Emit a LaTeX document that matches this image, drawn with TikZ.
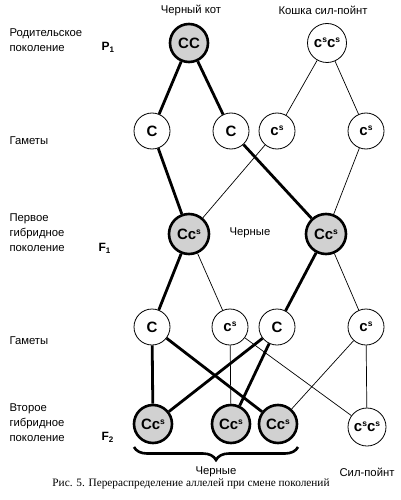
\documentclass[tikz,border=0pt]{standalone}
\usepackage{fontspec}
\setmainfont{Liberation Serif}
\setsansfont{Liberation Sans}
\usetikzlibrary{decorations.pathreplacing}
\newcommand{\supS}{\raisebox{0.62ex}{\fontsize{8.5}{8.5}\selectfont s}}

\begin{document}
\begin{tikzpicture}[x=1pt, y=-1pt, font=\sffamily\fontsize{11.3}{15}\selectfont]
\tikzset{gam/.style={circle, draw, line width=0.8pt, fill=white, minimum size=36pt, inner sep=0pt, font=\sffamily\bfseries\fontsize{15}{15}\selectfont}, wht/.style={gam, minimum size=39pt}, blk/.style={gam, line width=2.6pt, fill=black!18, minimum size=38pt}, bold/.style={line width=2.8pt}, fine/.style={line width=0.7pt}, lbl/.style={anchor=west, align=left}, gen/.style={anchor=west, font=\sffamily\bfseries\fontsize{12}{12}\selectfont}}
\useasboundingbox (0,0) rectangle (401,500);
% parents
\node[blk] (p1a) at (189,43) {CC};
\node[wht] (p1b) at (327,43) {c\supS c\supS};
\node (catA) at (191,10) {Черный кот};
\node (catB) at (323,10) {Кошка сил-пойнт};
% gametes of parents
\node[gam] (g1a) at (152,131) {C};
\node[gam] (g1b) at (231,131) {C};
\node[gam] (g1c) at (277,131) {c\supS};
\node[gam] (g1d) at (366,131) {c\supS};
% F1
\node[blk, minimum size=40pt] (f1a) at (189,234) {Cc\supS};
\node[blk, minimum size=40pt] (f1b) at (326,234) {Cc\supS};
\node (blk1) at (250,233) {Черные};
% gametes of F1
\node[gam] (g2a) at (152,327) {C};
\node[gam] (g2b) at (230,327) {c\supS};
\node[gam] (g2c) at (277,327) {C};
\node[gam] (g2d) at (366,327) {c\supS};
% F2
\node[blk] (f2a) at (153,424) {Cc\supS};
\node[blk] (f2b) at (231,424) {Cc\supS};
\node[blk] (f2c) at (278,424) {Cc\supS};
\node[gam, minimum size=38pt] (f2d) at (367,427) {c\supS c\supS};
\foreach \x/\y in {p1a/g1a,p1a/g1b,g1a/f1a,g1b/f1b,f1a/g2a,f1b/g2c,g2a/f2a,g2a/f2c,g2c/f2a,g2c/f2b} \draw[bold] (\x)--(\y);
\foreach \x/\y in {p1b/g1c,p1b/g1d,g1c/f1a,g1d/f1b,f1a/g2b,f1b/g2d,g2b/f2b,g2b/f2d,g2d/f2c,g2d/f2d} \draw[fine] (\x)--(\y);
% brace and group names
\coordinate (brL) at (134,447);
\coordinate (brR) at (298,447);
\draw[decorate, decoration={brace, mirror, amplitude=13pt}, line width=2.6pt] (brL) -- (brR);
\node (blk2) at (216,472) {Черные};
\node (sp) at (367,472) {Сил-пойнт};
% generation labels
\node[lbl] (par) at (6,40) {Родительское\\поколение};
\node[gen] (P1) at (98,47) {P\textsubscript{1}};
\node[lbl] (gm1) at (6,141) {Гаметы};
\node[lbl] (fst) at (6,233) {Первое\\гибридное\\поколение};
\node[gen] (F1) at (95,248) {F\textsubscript{1}};
\node[lbl] (gm2) at (6,341) {Гаметы};
\node[lbl] (snd) at (6,423) {Второе\\гибридное\\поколение};
\node[gen] (F2) at (98,437) {F\textsubscript{2}};
\node[font=\rmfamily\fontsize{11.3}{13}\selectfont] (cap) at (191,484) {Рис. 5. Перераспределение аллелей при смене поколений};
\end{tikzpicture}
\end{document}
